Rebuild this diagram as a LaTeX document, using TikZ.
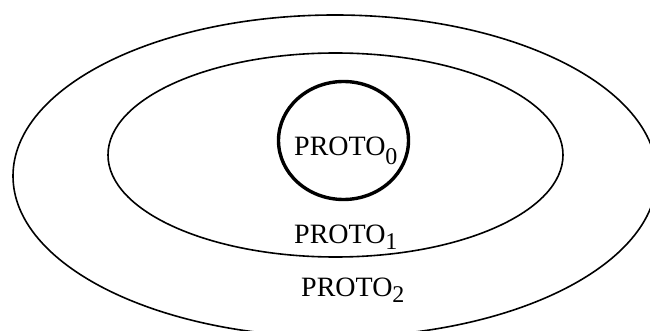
\documentclass[tikz,border=0pt]{standalone}
\usepackage{fontspec}
\setmainfont{Liberation Serif}
\usetikzlibrary{positioning}
\def\figwidth{650}
\def\figheight{331}
\newcommand{\protosub}[2]{\raisebox{-#1pt}{\fontsize{24}{24}\selectfont #2}}

\begin{document}
\begin{tikzpicture}[x=1pt,y=-1pt,font=\fontsize{28}{30}\selectfont,
 ring/.style={draw=black,line width=1.6pt},
 core/.style={draw=black,line width=3.4pt},
 tag/.style={anchor=base west,inner sep=0pt}]
\path[use as bounding box] (0,0) rectangle (\figwidth,\figheight);
\clip (0,0) rectangle (\figwidth,\figheight);
\draw[ring] (335,176) ellipse [x radius=322,y radius=161];
\draw[ring] (335.5,155) ellipse [x radius=227.5,y radius=102];
\draw[core] (343.5,140.5) ellipse [x radius=65,y radius=59];
\node[tag] (proto0) at (294,156) {PROTO\protosub{9}{0}};
\node[tag] (proto1) at (294,243) {PROTO\protosub{6}{1}};
\node[tag] (proto2) at (301,296) {PROTO\protosub{6}{2}};
\end{tikzpicture}
\end{document}
